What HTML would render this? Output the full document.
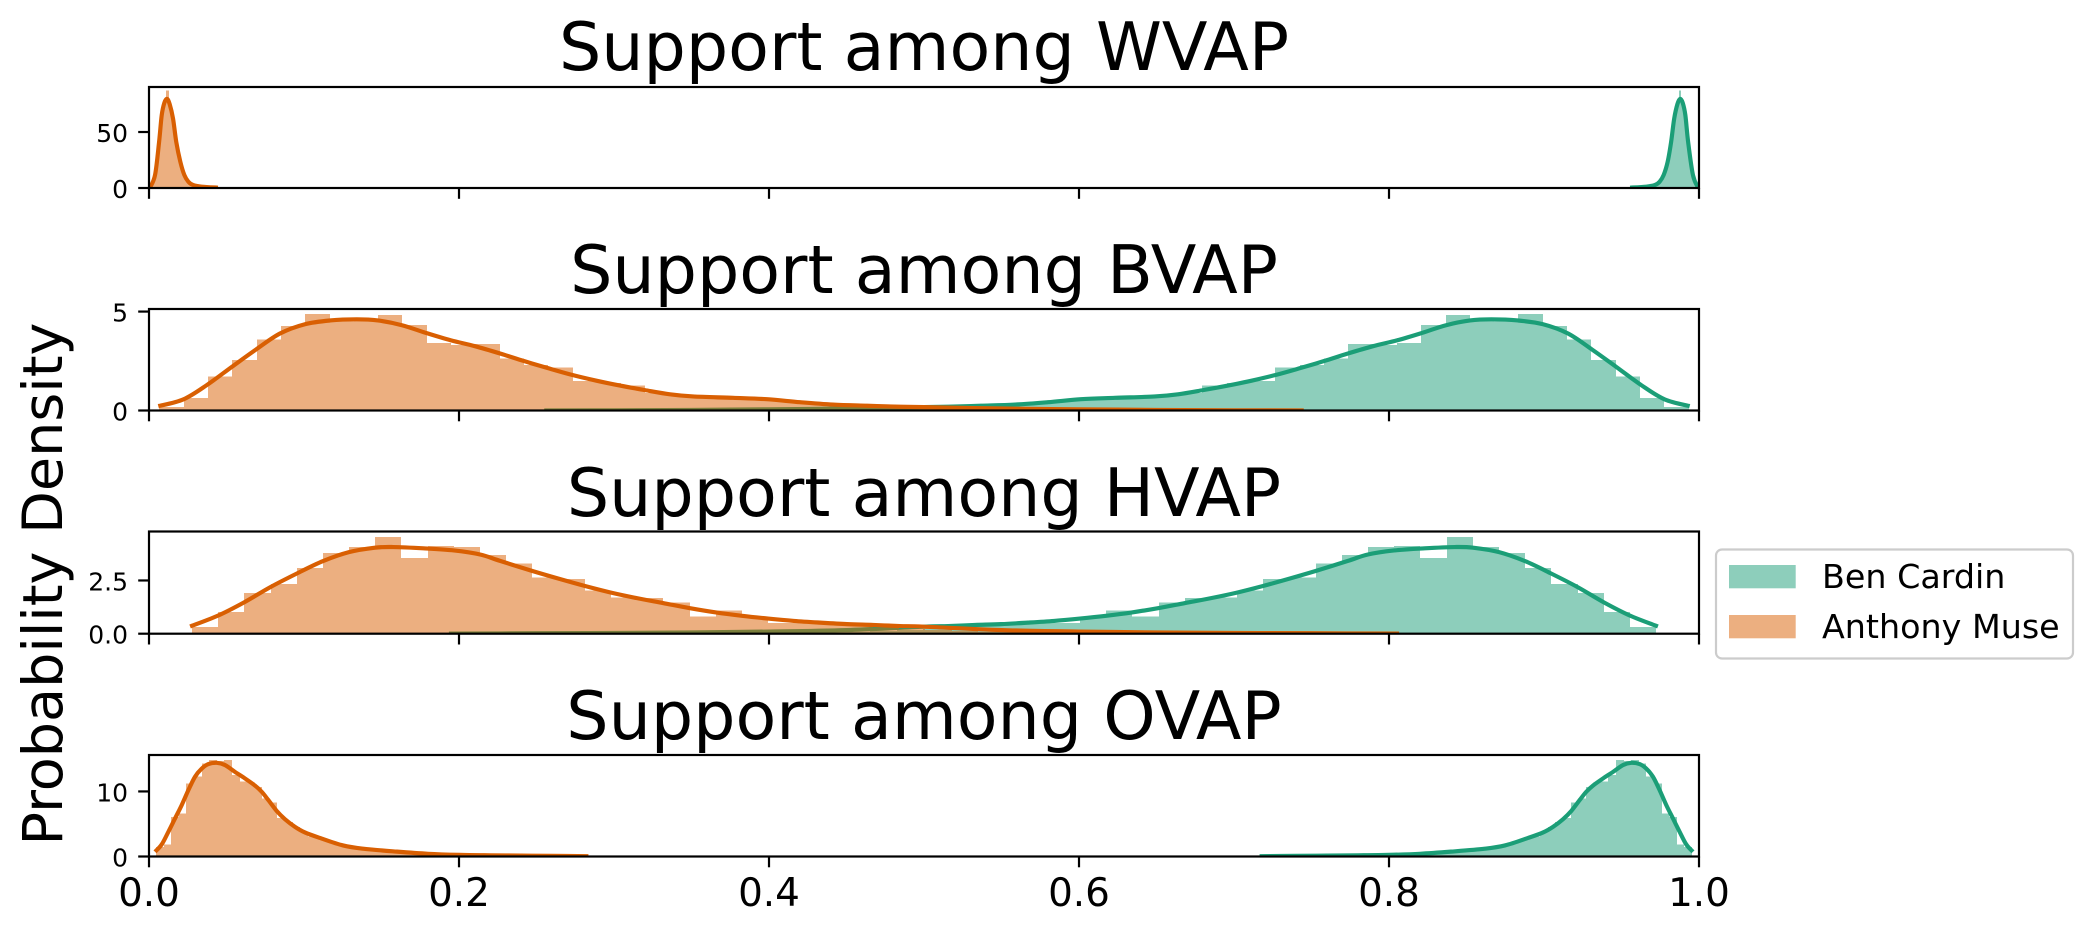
<!DOCTYPE html>
<html lang="en">
<head>
<meta charset="utf-8">
<title>Support by group</title>
<style>
html,body{margin:0;padding:0;background:#fff;width:2093px;height:936px;overflow:hidden}
svg{display:block}
text{font-family:"DejaVu Sans","Liberation Sans",sans-serif;fill:#000}
.ttl{font-size:66.67px;text-anchor:middle}
.ytl{font-size:25px;text-anchor:end}
.xtl{font-size:38.9px;text-anchor:middle}
.leg{font-size:33.33px}
</style>
</head>
<body>
<svg id="chart" xmlns="http://www.w3.org/2000/svg" width="2093" height="936" viewBox="0 0 2093 936">
  <rect x="0" y="0" width="2093" height="936" fill="#fff"/>
  <g id="panels"></g>
  <text class="ttl" x="924" y="70">Support among WVAP</text>
  <text class="ttl" x="924" y="293">Support among BVAP</text>
  <text class="ttl" x="924" y="516">Support among HVAP</text>
  <text class="ttl" x="924" y="739">Support among OVAP</text>
  <text style="font-size:55.6px;text-anchor:middle" transform="translate(62,584) rotate(-90)">Probability Density</text>
  <g>
    <rect x="1716" y="549.5" width="357" height="109" rx="6" ry="6" fill="#fff" fill-opacity="0.8" stroke="#ccc" stroke-width="2.2"/>
    <rect x="1729" y="565" width="66.7" height="23.3" fill="#1b9e77" fill-opacity="0.5"/>
    <text class="leg" x="1822" y="588">Ben Cardin</text>
    <rect x="1729" y="615" width="66.7" height="23.3" fill="#d95f02" fill-opacity="0.5"/>
    <text class="leg" x="1822" y="638">Anthony Muse</text>
  </g>
</svg>
<script>
// ---- Axis tick data ----
const xTickValues = [0, 0.2, 0.4, 0.6, 0.8, 1.0];
const xTickLabels = ['0.0', '0.2', '0.4', '0.6', '0.8', '1.0'];
const wvapYTicks = [0, 50];
const wvapYLabels = ['0', '50'];
const bvapYTicks = [0, 5];
const bvapYLabels = ['0', '5'];
const hvapYTicks = [0, 2.5];
const hvapYLabels = ['0.0', '2.5'];
const ovapYTicks = [0, 10];
const ovapYLabels = ['0', '10'];

// ---- WVAP ----
const wvapMuseKdeX = [0.0006,0.0039,0.0065,0.0082,0.0099,0.0116,0.0133,0.0155,0.0176,0.0202,0.0228,0.0254,0.0284,0.034,0.0445];
const wvapMuseKdeY = [0.3,11.6,41,65,76,79.6,75,62,41,23.5,11.6,5.6,2.7,1.2,0.3];
const wvapCardinKdeX = [0.9994,0.9961,0.993,0.9912,0.9895,0.9878,0.9861,0.984,0.982,0.9798,0.9772,0.9746,0.9716,0.966,0.9555];
const wvapCardinKdeY = [0.3,11.6,41,65,76,79.6,75,62,41,23.5,11.6,5.6,2.7,1.2,0.3];
const wvapMuseHistStart = 0.0006;
const wvapCardinHistStart = 0.9553;
const wvapHistWidth = 0.0015;
const wvapMuseHist = [1.5,8,20,38,58,72,78,87,74,64,50,36,26,18,12,8,5,3.5,2.5,1.5,1.2,1,0.8,0.6,0.5,0.4,0.3,0.2,0.1];
const wvapCardinHist = [0.1,0.2,0.3,0.4,0.5,0.6,0.8,1,1.2,1.5,2.5,3.5,5,8,12,18,26,36,50,64,74,87,78,72,58,38,20,8,1.5];

// ---- BVAP ----
const bvapMuseKdeX = [0.006,0.0221,0.0372,0.0535,0.069,0.0845,0.1006,0.1168,0.134,0.1477,0.1632,0.1787,0.1946,0.2103,0.2265,0.2419,0.2574,0.2729,0.289,0.3039,0.32,0.3361,0.351,0.3768,0.3987,0.42,0.4413,0.4632,0.4845,0.5,0.55,0.6,0.65,0.7,0.745];
const bvapMuseKdeY = [0.22,0.56,1.28,2.21,3.08,3.89,4.36,4.55,4.61,4.55,4.31,3.92,3.55,3.25,2.88,2.5,2.14,1.8,1.5,1.26,1.03,0.82,0.71,0.64,0.57,0.42,0.30,0.24,0.19,0.17,0.10,0.06,0.03,0.01,0.004];
const bvapCardinKdeX = [0.994,0.9779,0.9628,0.9465,0.931,0.9155,0.8994,0.8832,0.866,0.8523,0.8368,0.8213,0.8054,0.7897,0.7735,0.7581,0.7426,0.7271,0.711,0.6961,0.68,0.6639,0.649,0.6232,0.6013,0.58,0.5587,0.5368,0.5155,0.5,0.45,0.4,0.35,0.3,0.255];
const bvapCardinKdeY = [0.22,0.56,1.28,2.21,3.08,3.89,4.36,4.55,4.61,4.55,4.31,3.92,3.55,3.25,2.88,2.5,2.14,1.8,1.5,1.26,1.03,0.82,0.71,0.64,0.57,0.42,0.30,0.24,0.19,0.17,0.10,0.06,0.03,0.01,0.004];
const bvapMuseHistStart = 0.0067;
const bvapCardinHistStart = 0.2563;
const bvapHistWidth = 0.01568;
const bvapMuseHist = [0.185,0.62,1.73,2.54,3.6,4.26,4.87,4.5,4.55,4.82,4.31,3.42,3.32,3.35,2.64,2.3,2.17,1.48,1.38,1.26,0.89,0.7,0.76,0.72,0.59,0.5,0.45,0.34,0.25,0.2,0.17,0.13,0.1,0.08,0.06,0.05,0.04,0.03,0.03,0.02,0.02,0.01,0.01,0.01,0.01,0.01,0.01];
const bvapCardinHist = [0.01,0.01,0.01,0.01,0.01,0.01,0.02,0.02,0.03,0.03,0.04,0.05,0.06,0.08,0.1,0.13,0.17,0.2,0.25,0.34,0.45,0.5,0.59,0.72,0.76,0.7,0.89,1.26,1.38,1.48,2.17,2.3,2.64,3.35,3.32,3.42,4.31,4.82,4.55,4.5,4.87,4.26,3.6,2.54,1.73,0.62,0.185];

// ---- HVAP ----
const hvapMuseKdeX = [0.0265,0.0445,0.0613,0.0781,0.0955,0.1123,0.129,0.1458,0.1576,0.177,0.1968,0.2136,0.2265,0.2471,0.2645,0.2813,0.2981,0.3148,0.3316,0.349,0.3658,0.3826,0.3994,0.4161,0.4329,0.4503,0.4671,0.4845,0.5,0.55,0.6,0.65,0.7,0.75,0.8065];
const hvapMuseKdeY = [0.34,0.85,1.47,2.18,2.83,3.41,3.83,4.04,4.07,4.01,3.91,3.72,3.42,2.95,2.58,2.24,1.93,1.67,1.44,1.2,1.0,0.84,0.71,0.6,0.52,0.45,0.41,0.36,0.33,0.17,0.1,0.06,0.035,0.02,0.005];
const hvapCardinKdeX = [0.9735,0.9555,0.9387,0.9219,0.9045,0.8877,0.871,0.8542,0.8424,0.823,0.8032,0.7864,0.7735,0.7529,0.7355,0.7187,0.7019,0.6852,0.6684,0.651,0.6342,0.6174,0.6006,0.5839,0.5671,0.5497,0.5329,0.5155,0.5,0.45,0.4,0.35,0.3,0.25,0.1935];
const hvapCardinKdeY = [0.34,0.85,1.47,2.18,2.83,3.41,3.83,4.04,4.07,4.01,3.91,3.72,3.42,2.95,2.58,2.24,1.93,1.67,1.44,1.2,1.0,0.84,0.71,0.6,0.52,0.45,0.41,0.36,0.33,0.17,0.1,0.06,0.035,0.02,0.005];
const hvapMuseHistStart = 0.0277;
const hvapCardinHistStart = 0.195;
const hvapHistWidth = 0.0169;
const hvapMuseHist = [0.31,1.02,1.91,2.33,3.08,3.79,4.07,4.54,3.55,4.12,4.07,3.69,3.29,2.64,2.58,2.03,1.71,1.67,1.46,0.81,1.08,0.78,0.5,0.58,0.47,0.39,0.3,0.22,0.17,0.12,0.09,0.07,0.05,0.04,0.03,0.03,0.02,0.02,0.02,0.01,0.01,0.01,0.01,0.01,0.01,0.01];
const hvapCardinHist = [0.01,0.01,0.01,0.01,0.01,0.01,0.01,0.02,0.02,0.02,0.03,0.03,0.04,0.05,0.07,0.09,0.12,0.17,0.22,0.3,0.39,0.47,0.58,0.5,0.78,1.08,0.81,1.46,1.67,1.71,2.03,2.58,2.64,3.29,3.69,4.07,4.12,3.55,4.54,4.07,3.79,3.08,2.33,1.91,1.02,0.31];

// ---- OVAP ----
const ovapMuseKdeX = [0.0039,0.0082,0.0125,0.0168,0.0211,0.0254,0.0297,0.034,0.0383,0.0437,0.0491,0.0555,0.0619,0.0684,0.0727,0.077,0.0824,0.0877,0.0942,0.1006,0.1103,0.1252,0.1381,0.16,0.18,0.2,0.22,0.24,0.26,0.2835];
const ovapMuseKdeY = [0.72,1.85,3.8,5.85,7.9,10.2,12.26,13.5,14.2,14.4,14.05,13.0,12,10.9,9.95,8.67,7.0,5.74,4.56,3.7,2.85,1.7,1.2,0.75,0.42,0.25,0.18,0.14,0.1,0.05];
const ovapCardinKdeX = [0.9961,0.9918,0.9875,0.9832,0.9789,0.9746,0.9703,0.966,0.9617,0.9563,0.9509,0.9445,0.9381,0.9316,0.9273,0.923,0.9176,0.9123,0.9058,0.8994,0.8897,0.8748,0.8619,0.84,0.82,0.8,0.78,0.76,0.74,0.7165];
const ovapCardinKdeY = [0.72,1.85,3.8,5.85,7.9,10.2,12.26,13.5,14.2,14.4,14.05,13.0,12,10.9,9.95,8.67,7.0,5.74,4.56,3.7,2.85,1.7,1.2,0.75,0.42,0.25,0.18,0.14,0.1,0.05];
const ovapMuseHistStart = 0.0045;
const ovapCardinHistStart = 0.7162;
const ovapHistWidth = 0.0049;
const ovapMuseHist = [1.49,1.85,6.05,6.6,11.2,12.26,14.3,14.8,14.7,14.8,12.5,11.5,11.4,10.7,8.9,8.3,5.95,5.3,4.56,3.7,3.1,2.85,2.6,2.2,1.9,1.3,1.35,1.2,1.1,1.0,0.9,0.8,0.7,0.65,0.55,0.45,0.4,0.3,0.3,0.25,0.2,0.2,0.15,0.15,0.12,0.1,0.1,0.1,0.08,0.08,0.06,0.05,0.05,0.04,0.04,0.03,0.03];
const ovapCardinHist = [0.03,0.03,0.04,0.04,0.05,0.05,0.06,0.08,0.08,0.1,0.1,0.1,0.12,0.15,0.15,0.2,0.2,0.25,0.3,0.3,0.4,0.45,0.55,0.65,0.7,0.8,0.9,1.0,1.1,1.2,1.35,1.3,1.9,2.2,2.6,2.85,3.1,3.7,4.56,5.3,5.95,8.3,8.9,10.7,11.4,11.5,12.5,14.8,14.7,14.8,14.3,12.26,11.2,6.6,6.05,1.85,1.49];

// ---- Series colours and layout ----
const CARDIN = '#1b9e77';
const MUSE = '#d95f02';
const plotLeft = 149, plotRight = 1699;
function xScale(v) { return plotLeft + v * (plotRight - plotLeft); }

const panels = [
  {key:'wvap', top:87, bottom:188, yMax:90.2, yTicks:wvapYTicks, yLabels:wvapYLabels,
   mHist:wvapMuseHist, mStart:wvapMuseHistStart, cHist:wvapCardinHist, cStart:wvapCardinHistStart, w:wvapHistWidth,
   mX:wvapMuseKdeX, mY:wvapMuseKdeY, cX:wvapCardinKdeX, cY:wvapCardinKdeY},
  {key:'bvap', top:309, bottom:410.5, yMax:5.13, yTicks:bvapYTicks, yLabels:bvapYLabels,
   mHist:bvapMuseHist, mStart:bvapMuseHistStart, cHist:bvapCardinHist, cStart:bvapCardinHistStart, w:bvapHistWidth,
   mX:bvapMuseKdeX, mY:bvapMuseKdeY, cX:bvapCardinKdeX, cY:bvapCardinKdeY},
  {key:'hvap', top:531.5, bottom:633.7, yMax:4.8, yTicks:hvapYTicks, yLabels:hvapYLabels,
   mHist:hvapMuseHist, mStart:hvapMuseHistStart, cHist:hvapCardinHist, cStart:hvapCardinHistStart, w:hvapHistWidth,
   mX:hvapMuseKdeX, mY:hvapMuseKdeY, cX:hvapCardinKdeX, cY:hvapCardinKdeY},
  {key:'ovap', top:755, bottom:856.5, yMax:15.6, yTicks:ovapYTicks, yLabels:ovapYLabels,
   mHist:ovapMuseHist, mStart:ovapMuseHistStart, cHist:ovapCardinHist, cStart:ovapCardinHistStart, w:ovapHistWidth,
   mX:ovapMuseKdeX, mY:ovapMuseKdeY, cX:ovapCardinKdeX, cY:ovapCardinKdeY}
];

const NS = 'http://www.w3.org/2000/svg';
const root = document.getElementById('panels');
function mk(tag, parent) {
  const el = document.createElementNS(NS, tag);
  parent.appendChild(el);
  return el;
}
function smoothPath(xs, ys, fx, fy) {
  const p = xs.map(function (x, i) { return [fx(x), fy(ys[i])]; });
  let d = 'M' + p[0][0].toFixed(2) + ' ' + p[0][1].toFixed(2);
  for (let i = 0; i < p.length - 1; i++) {
    const a = p[Math.max(i - 1, 0)], b = p[i], c = p[i + 1], e = p[Math.min(i + 2, p.length - 1)];
    d += ' C' + (b[0] + (c[0] - a[0]) / 6).toFixed(2) + ' ' + (b[1] + (c[1] - a[1]) / 6).toFixed(2) +
         ' ' + (c[0] - (e[0] - b[0]) / 6).toFixed(2) + ' ' + (c[1] - (e[1] - b[1]) / 6).toFixed(2) +
         ' ' + c[0].toFixed(2) + ' ' + c[1].toFixed(2);
  }
  return d;
}

panels.forEach(function (pn) {
  const g = mk('g', root);
  
  
  const yScale = function (v) { return pn.bottom - (v / pn.yMax) * (pn.bottom - pn.top); };

  const clip = mk('clipPath', g);
  clip.setAttribute('id', 'clip-' + pn.key);
  const cr = mk('rect', clip);
  cr.setAttribute('x', plotLeft);
  cr.setAttribute('y', pn.top);
  cr.setAttribute('width', plotRight - plotLeft);
  cr.setAttribute('height', pn.bottom - pn.top);

  const marks = mk('g', g);
  marks.setAttribute('clip-path', 'url(#clip-' + pn.key + ')');
  
  

  function drawHist(values, start, color, who) {
    values.forEach(function (v, i) {
      const x0 = Math.round(xScale(start + i * pn.w));
      const x1 = Math.round(xScale(start + (i + 1) * pn.w));
      const r = mk('rect', marks);
      
      
      r.setAttribute('x', x0);
      r.setAttribute('y', yScale(v).toFixed(2));
      r.setAttribute('width', Math.max(x1 - x0, 1));
      r.setAttribute('height', (pn.bottom - yScale(v)).toFixed(2));
      r.setAttribute('fill', color);
      r.setAttribute('fill-opacity', '0.5');
      r.setAttribute('shape-rendering', 'crispEdges');
    });
  }
  function drawKde(xs, ys, color, who) {
    const l = mk('path', marks);
    
    
    l.setAttribute('d', smoothPath(xs, ys, xScale, yScale));
    l.setAttribute('fill', 'none');
    l.setAttribute('stroke', color);
    l.setAttribute('stroke-width', '4.17');
    l.setAttribute('stroke-linejoin', 'round');
  }
  drawHist(pn.cHist, pn.cStart, CARDIN, 'ben-cardin');
  drawKde(pn.cX, pn.cY, CARDIN, 'ben-cardin');
  drawHist(pn.mHist, pn.mStart, MUSE, 'anthony-muse');
  drawKde(pn.mX, pn.mY, MUSE, 'anthony-muse');

  const frame = mk('rect', g);
  
  
  frame.setAttribute('x', plotLeft);
  frame.setAttribute('y', pn.top);
  frame.setAttribute('width', plotRight - plotLeft);
  frame.setAttribute('height', pn.bottom - pn.top);
  frame.setAttribute('fill', 'none');
  frame.setAttribute('stroke', '#000');
  frame.setAttribute('stroke-width', '2.2');

  xTickValues.forEach(function (v, i) {
    const t = mk('line', g);
    
    
    t.setAttribute('x1', xScale(v));
    t.setAttribute('x2', xScale(v));
    t.setAttribute('y1', pn.bottom);
    t.setAttribute('y2', pn.bottom + 10.8);
    t.setAttribute('stroke', '#000');
    t.setAttribute('stroke-width', '2.2');
    if (pn.key === 'ovap') {
      const lab = mk('text', g);
      
      
      lab.setAttribute('class', 'xtl');
      lab.setAttribute('x', xScale(v));
      lab.setAttribute('y', 906);
      lab.textContent = xTickLabels[i];
    }
  });

  pn.yTicks.forEach(function (v, i) {
    const t = mk('line', g);
    
    
    t.setAttribute('x1', plotLeft - 10.8);
    t.setAttribute('x2', plotLeft);
    t.setAttribute('y1', yScale(v));
    t.setAttribute('y2', yScale(v));
    t.setAttribute('stroke', '#000');
    t.setAttribute('stroke-width', '2.2');
    const lab = mk('text', g);
    
    
    lab.setAttribute('class', 'ytl');
    lab.setAttribute('x', 128);
    lab.setAttribute('y', yScale(v) + 10);
    lab.textContent = pn.yLabels[i];
  });
});
</script>
</body>
</html>
